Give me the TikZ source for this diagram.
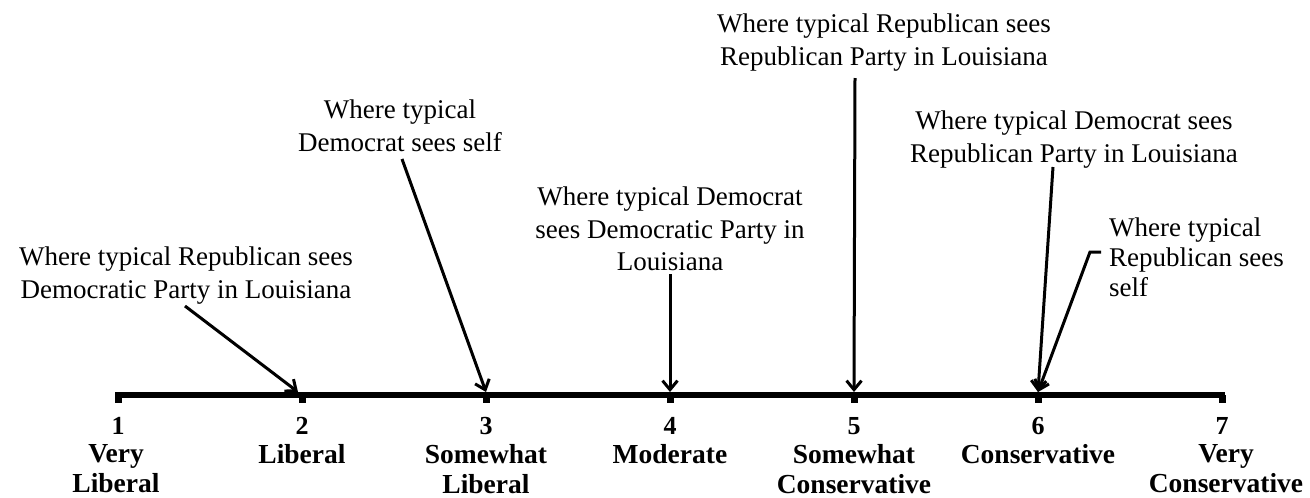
\documentclass[tikz,border=0pt]{standalone}
\usepackage{fontspec}
\setmainfont{Liberation Serif}
\usetikzlibrary{arrows.meta}
\begin{document}
\begin{tikzpicture}[x=1pt,y=-1pt,
  lbl/.style={font=\fontsize{27}{32.5}\selectfont, align=center, inner sep=0pt, anchor=north},
  lbll/.style={font=\fontsize{27}{30}\selectfont, align=left, inner sep=0pt, anchor=north west},
  num/.style={font=\fontsize{26}{30}\selectfont\bfseries, inner sep=0pt},
  cat/.style={font=\fontsize{27.5}{30}\selectfont\bfseries, align=center, inner sep=0pt, anchor=north},
  axisline/.style={line width=6pt},
  arr/.style={line width=3pt, -{Straight Barb[length=9pt,width=15pt]}}
]
\useasboundingbox (0,0) rectangle (1310,498);

% axis
\coordinate (aL) at (115,395);
\coordinate (aR) at (1225,395);
\draw[axisline] (aL) -- (aR);
\foreach \i/\x in {1/118,2/302,3/486,4/670,5/854,6/1038,7/1222}{
  \fill (\x-3.5,395) rectangle (\x+3.5,403);
  \coordinate (t\i) at (\x,392);
}

% numbers and categories
\node[num] (n1) at (118,426) {1};
\node[num] (n2) at (302,426) {2};
\node[num] (n3) at (486,426) {3};
\node[num] (n4) at (670,426) {4};
\node[num] (n5) at (854,426) {5};
\node[num] (n6) at (1038,426) {6};
\node[num] (n7) at (1222,426) {7};

\node[cat] (c1) at (116,444) {Very\\Liberal};
\node[cat] (c2) at (302,444) {Liberal};
\node[cat] (c3) at (486,444) {Somewhat\\Liberal};
\node[cat] (c4) at (670,444) {Moderate};
\node[cat] (c5) at (854,444) {Somewhat\\Conservative};
\node[cat] (c6) at (1038,444) {Conservative};
\node[cat] (c7) at (1226,444) {Very\\Conservative};

% annotation texts
\node[lbl] (l1) at (186,247) {Where typical Republican sees\\Democratic Party in Louisiana};
\node[lbl] (l2) at (400,100) {Where typical\\Democrat sees self};
\node[lbl] (l3) at (670,187) {Where typical Democrat\\sees Democratic Party in\\Louisiana};
\node[lbl] (l4) at (884,14) {Where typical Republican sees\\Republican Party in Louisiana};
\node[lbl] (l5) at (1074,111) {Where typical Democrat sees\\Republican Party in Louisiana};
\node[lbll] (l6) at (1109,218) {Where typical\\Republican sees\\self};

% arrow start points
\coordinate (s1) at (185,306);
\coordinate (s2) at (402,159);
\coordinate (s3) at (670,274);
\coordinate (s4) at (855,78);
\coordinate (s5) at (1053,167);
\coordinate (s6) at (1101,252);
\coordinate (b6) at (1090,252);
\coordinate (e1) at (298,392);

\draw[arr] (s1) -- (e1);
\draw[arr] (s2) -- (t3);
\draw[arr] (s3) -- (t4);
\draw[arr] (s4) -- (t5);
\draw[arr] (s5) -- (t6);
\draw[arr] (s6) -- (b6) -- (t6);
\end{tikzpicture}
\end{document}
